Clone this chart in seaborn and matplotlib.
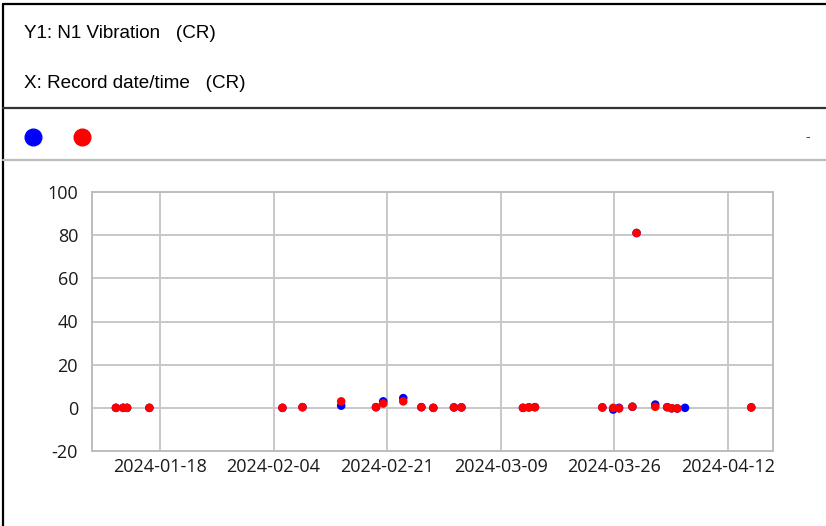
"""N1 vibration trend chart, redrawn with seaborn."""

import matplotlib

matplotlib.use("Agg")

import matplotlib.pyplot as plt
import numpy as np
import pandas as pd
import seaborn as sns
from matplotlib.lines import Line2D


RECORD_DATES = [
    "2024-01-11 10:00", "2024-01-12 12:00", "2024-01-13 02:00", "2024-01-16 10:00",
    "2024-02-05 08:00", "2024-02-08 08:00", "2024-02-14 03:00", "2024-02-19 08:00",
    "2024-02-20 10:00", "2024-02-23 10:00", "2024-02-26 03:00", "2024-02-27 22:00",
    "2024-03-02 00:00", "2024-03-03 03:00", "2024-03-12 08:00", "2024-03-13 05:00",
    "2024-03-14 03:00", "2024-03-24 05:00", "2024-03-25 20:00", "2024-03-26 17:00",
    "2024-03-28 17:00", "2024-03-29 08:00", "2024-04-01 03:00", "2024-04-02 22:00",
    "2024-04-03 14:00", "2024-04-04 10:00", "2024-04-05 14:00", "2024-04-15 12:00",
]
BLUE_VALUES = [
    0.0, 0.0, 0.0, 0.0,
    0.0, 0.3, 1.0, 0.3,
    3.0, 4.5, 0.3, 0.0,
    0.2, 0.2, 0.0, 0.2,
    0.3, 0.2, -0.8, 0.0,
    0.5, 81.0, 1.5, 0.3,
    -0.2, -0.3, 0.0, 0.2,
]
RED_VALUES = [
    0.0, 0.0, 0.0, 0.0,
    0.0, 0.3, 3.0, 0.3,
    2.0, 3.0, 0.3, 0.0,
    0.2, 0.2, 0.0, 0.2,
    0.3, 0.2, 0.0, -0.3,
    0.5, 81.0, 0.5, 0.3,
    -0.2, -0.3, np.nan, 0.2,
]
SERIES_COLORS = {"blue": "#0000ff", "red": "#ff0000"}

X_TICKS = ["2024-01-18", "2024-02-04", "2024-02-21", "2024-03-09", "2024-03-26", "2024-04-12"]
X_LIMITS = ["2024-01-07 20:00", "2024-04-18 18:00"]
Y_TICKS = [-20, 0, 20, 40, 60, 80, 100]

HEADER_LINES = ["Y1: N1 Vibration   (CR)", "X: Record date/time   (CR)"]

W, H = 826, 526
HEADER_FONT = ["Liberation Sans", "DejaVu Sans"]
TICK_FONT = ["Open Sans", "DejaVu Sans"]


def fx(px):
    return px / W


def fy(py):
    return 1 - py / H


def build_frame():
    dates = pd.to_datetime(RECORD_DATES)
    blue = pd.DataFrame({"date": dates, "value": BLUE_VALUES, "series": "blue"})
    red = pd.DataFrame({"date": dates, "value": RED_VALUES, "series": "red"})
    # blue first so the red markers sit on top
    return pd.concat([blue, red], ignore_index=True).dropna(subset=["value"])


def main():
    sns.set_style("white")
    plt.rcParams["font.family"] = TICK_FONT
    plt.rcParams["axes.unicode_minus"] = False

    df = build_frame()
    fig = plt.figure(figsize=(W / 100, H / 100), dpi=100)

    # panel borders
    fig.add_artist(Line2D([fx(3), fx(3)], [0, fy(4)], color="black", lw=1.6))
    fig.add_artist(Line2D([fx(3), 1], [fy(4), fy(4)], color="black", lw=1.6))
    fig.add_artist(Line2D([fx(3), 1], [fy(108), fy(108)], color="#333333", lw=1.6))
    fig.add_artist(Line2D([fx(3), 1], [fy(160), fy(160)], color="#bdbdbd", lw=1.6))

    for text, ypx in zip(HEADER_LINES, (33, 84)):
        fig.text(fx(24), fy(ypx), text, fontsize=13.6, va="center", color="black",
                 family=HEADER_FONT)
    fig.text(fx(808), fy(137), "-", fontsize=10, va="center", ha="center",
             color="#444444", family=HEADER_FONT)

    handles = [
        Line2D([], [], marker="o", ls="", markersize=12, color=SERIES_COLORS[k])
        for k in ("blue", "red")
    ]
    fig.legend(
        handles, ["", ""], ncol=2, frameon=False, loc="center left",
        bbox_to_anchor=(fx(26), fy(138)), handlelength=1.0, handletextpad=0.0,
        columnspacing=2.5, borderpad=0, borderaxespad=0,
    )

    ax = fig.add_axes([fx(92), fy(451), fx(773) - fx(92), fy(192) - fy(451)])
    sns.scatterplot(
        data=df, x="date", y="value", hue="series", palette=SERIES_COLORS,
        s=38, linewidth=0, ax=ax, legend=False, zorder=3,
    )

    ax.set_xlim(pd.to_datetime(X_LIMITS))
    ax.set_ylim(Y_TICKS[0], Y_TICKS[-1])
    ax.set_xticks(pd.to_datetime(X_TICKS))
    ax.set_xticklabels(X_TICKS)
    ax.set_yticks(Y_TICKS)
    ax.set_xlabel("")
    ax.set_ylabel("")
    ax.grid(True, color="#c8c8c8", lw=1.4)
    ax.set_axisbelow(True)
    for spine in ax.spines.values():
        spine.set_color("#bdbdbd")
        spine.set_linewidth(1.4)
    ax.tick_params(length=0, labelsize=13, colors="#1a1a1a")
    ax.tick_params(axis="x", pad=5)
    ax.tick_params(axis="y", pad=10)

    fig.savefig("out.png", dpi=100)
    plt.close(fig)


if __name__ == "__main__":
    main()
